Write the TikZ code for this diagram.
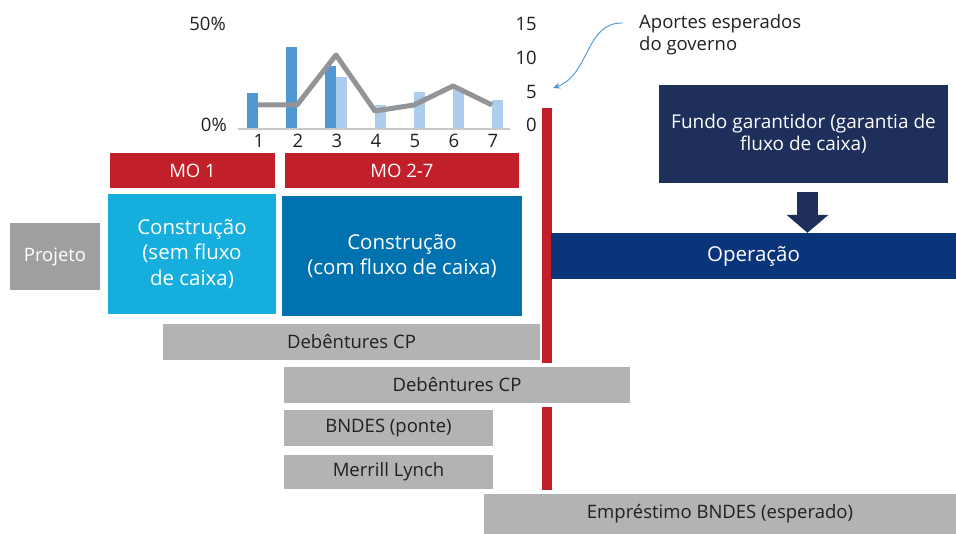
\documentclass[tikz,border=0pt]{standalone}
\usepackage{fontspec}
\setmainfont{Open Sans}
\usetikzlibrary{arrows.meta}
\definecolor{mored}{RGB}{193,32,42}
\definecolor{semblue}{RGB}{21,174,221}
\definecolor{comblue}{RGB}{0,114,175}
\definecolor{operblue}{RGB}{11,53,123}
\definecolor{fundoblue}{RGB}{30,47,91}
\definecolor{boxgray}{RGB}{177,179,180}
\definecolor{projgray}{RGB}{157,159,161}
\definecolor{darkbar}{RGB}{79,151,210}
\definecolor{lightbar}{RGB}{173,205,236}
\definecolor{linegray}{RGB}{146,148,151}
\definecolor{axisgray}{RGB}{200,201,202}
\definecolor{textdark}{RGB}{35,31,32}
\definecolor{annotblue}{RGB}{74,148,211}
\begin{document}
\begin{tikzpicture}
  [x=1pt, y=-1pt,
   every node/.style={inner sep=0pt, text=textdark, font=\fontsize{18.5}{22}\selectfont},
   dims/.style 2 args={minimum width=#1pt, minimum height=#2pt},
   phase/.style={text=white, align=center, font=\fontsize{20.5}{25.5}\selectfont},
   mobox/.style={fill=mored, text=white},
   fundbox/.style={fill=boxgray},
   annot/.style={annotblue, line width=0.9pt}]
  \useasboundingbox (0,0) rectangle (956,534);
  \fill[mored] (542,108) rectangle (552,363);
  \fill[mored] (542,407) rectangle (552,490);
  \foreach \i/\h in {1/36,2/82,3/63}
    \fill[darkbar] ({258+39*(\i-1)-11},129) rectangle ++(11,-\h);
  \foreach \i/\h in {3/52,4/24,5/37,6/41,7/29}
    \fill[lightbar] ({258+39*(\i-1)},129) rectangle ++(11,-\h);
  \draw[axisgray, line width=1.2pt] (238,129) -- (510,129);
  \draw[linegray, line width=5pt, line join=round]
    plot coordinates {(258,105) (297,105) (336,55) (375,111) (414,105) (453,86) (492,105)};
  \foreach \i in {1,...,7}
    \node (cat\i) at ({259+39*(\i-1)},141) {\i};
  \node[anchor=east] (pmax) at (226,24) {50\%};
  \node[anchor=east] (pmin) at (227,125) {0\%};
  \foreach \v/\y in {15/24,10/58,5/92,0/125}
    \node[anchor=east] (ax\v) at (537,\y) {\v};
  \node[anchor=west, align=left, font=\fontsize{18.5}{22}\selectfont] (aportes) at (639,35)
    {Aportes esperados\\do governo};
  \coordinate (gov) at (553,88);
  \draw[annot, -{Stealth[length=7pt,width=6pt]}] ([shift={(-16pt,12pt)}]aportes.west)
    .. controls (585,22) and (590,75) .. (gov);
  \node[mobox, dims={165}{35}] (mo1) at (192.5,170.5) {MO 1};
  \node[mobox, dims={234}{35}] (mo27) at (402,170.5) {MO 2-7};
  \node[fill=projgray, text=white, dims={90}{67}] (projeto) at (55,256.5) {Projeto};
  \node[phase, fill=semblue, dims={168}{120}] (sem) at (192,254)
    {Construção\\(sem fluxo\\de caixa)};
  \node[phase, fill=comblue, dims={240}{120}] (com) at (402,256)
    {Construção\\(com fluxo de caixa)};
  \node[phase, fill=operblue, dims={405}{46}] (oper) at (753.5,256) {Operação};
  \node[fill=fundoblue, text=white, align=center, dims={289}{98},
        font=\fontsize{19}{22}\selectfont] (fundo) at (803.5,134)
    {Fundo garantidor (garantia de\\fluxo de caixa)};
  \draw[fundoblue, line width=21pt, -{Triangle[length=18pt,width=41pt]}]
    ([xshift=4pt,yshift=-9pt]fundo.south) -- ([xshift=4pt]fundo.south |- oper.north);
  \node[fundbox, dims={377}{36}] (deb1) at (351.5,342) {Debêntures CP};
  \node[fundbox, dims={346}{36}] (deb2) at (457,385) {Debêntures CP};
  \node[fundbox, dims={209}{36}] (bndes) at (388.5,428) {BNDES (ponte)};
  \node[fundbox, dims={209}{34}] (merrill) at (388.5,472) {Merrill Lynch};
  \node[fundbox, dims={472}{40}] (empr) at (720,514) {Empréstimo BNDES (esperado)};
\end{tikzpicture}
\end{document}
